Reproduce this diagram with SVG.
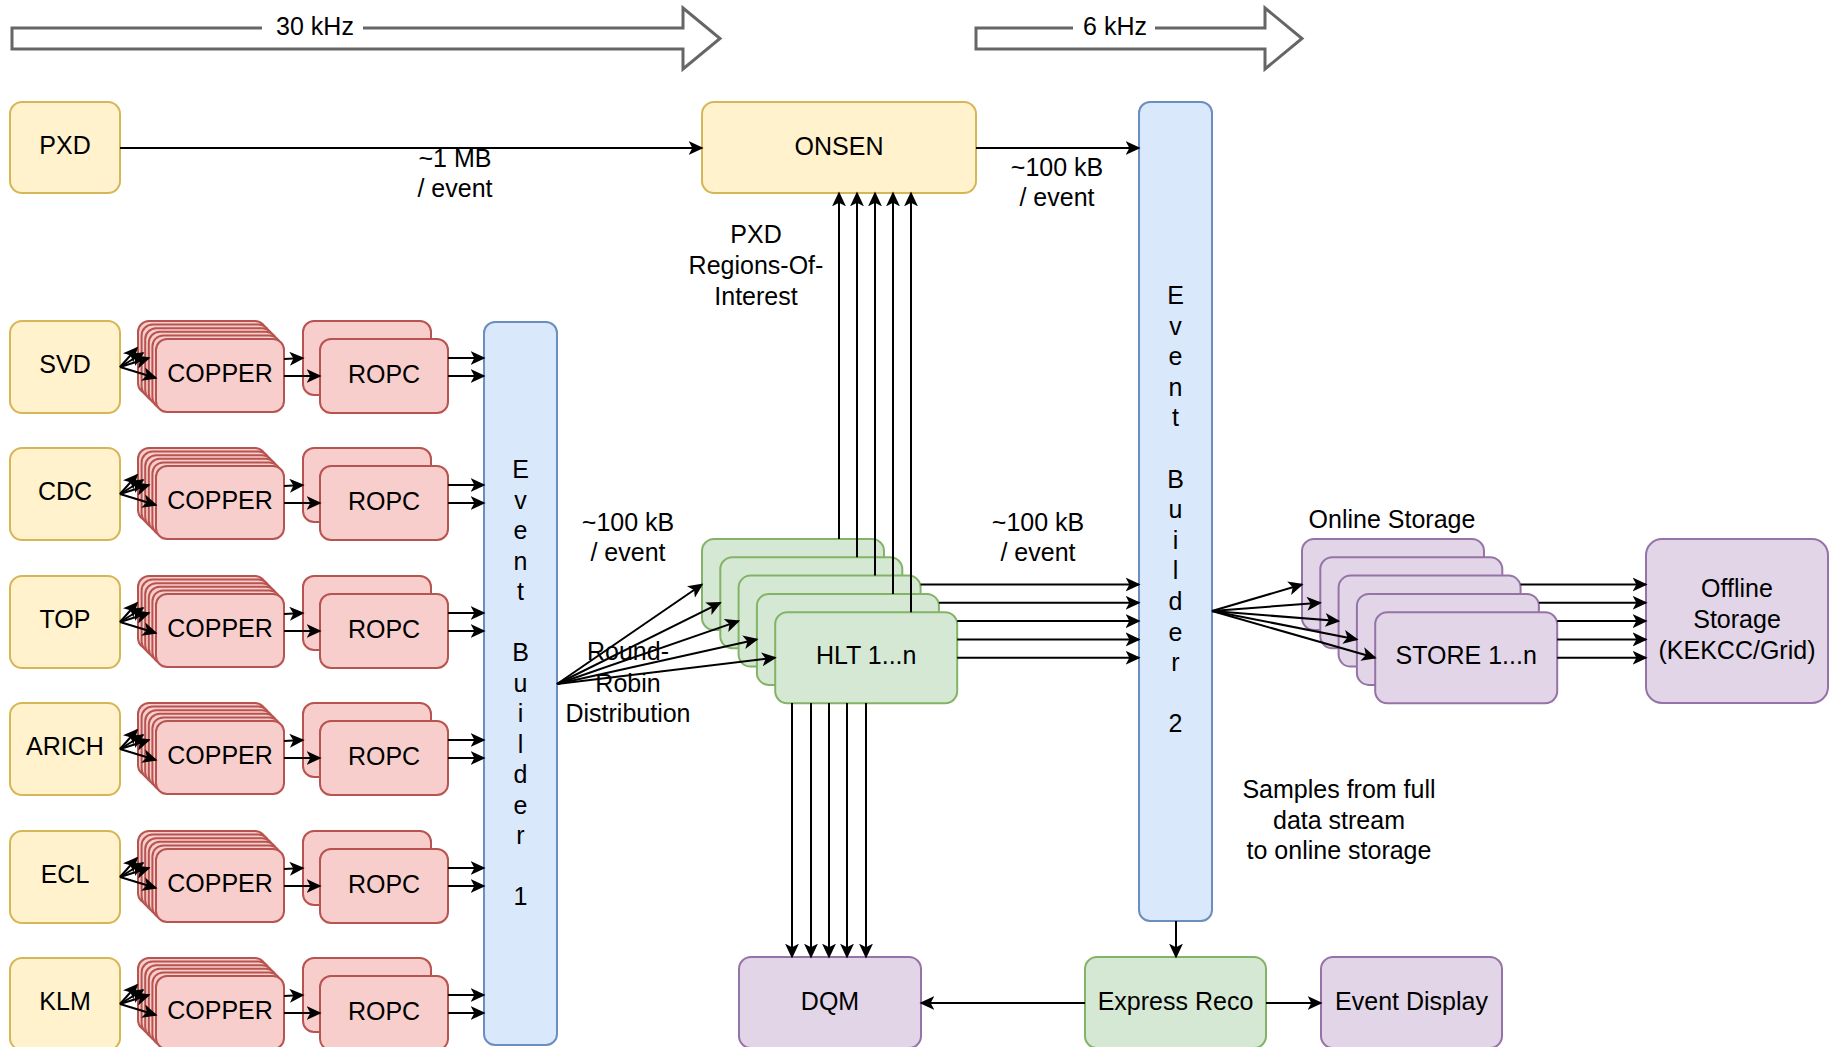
<svg xmlns="http://www.w3.org/2000/svg" width="1830" height="1047" viewBox="0 0 1830 1047">
<style>
text{font-family:"Liberation Sans",Arial,Helvetica,sans-serif;font-size:25px;fill:#000;text-anchor:middle}
.y{fill:#fff2cc;stroke:#d6b656;stroke-width:2}
.r{fill:#f8cecc;stroke:#b85450;stroke-width:2}
.b{fill:#dae8fc;stroke:#6c8ebf;stroke-width:2}
.g{fill:#d5e8d4;stroke:#82b366;stroke-width:2}
.p{fill:#e1d5e7;stroke:#9673a6;stroke-width:2}
.e{fill:none;stroke:#000;stroke-width:2;marker-end:url(#a)}
.big{fill:#fff;stroke:#666;stroke-width:3}
</style>
<defs>
<marker id="a" markerUnits="userSpaceOnUse" viewBox="0 0 14 14" refX="12.5" refY="7" markerWidth="15" markerHeight="15" orient="auto">
<path d="M0,0.5 L14,7 L0,13.5 L3.5,7 Z" fill="#000"/>
</marker>
</defs>

<g id="rate30">
<path class="big" d="M12,28 L683,28 L683,8 L720,38.5 L683,69 L683,49 L12,49 Z"/>
<rect x="262" y="20" width="101" height="22" fill="#fff"/>
<text x="315" y="35">30 kHz</text>
</g>
<g id="rate6">
<path class="big" d="M976,28 L1265,28 L1265,8 L1302,38.5 L1265,69 L1265,49 L976,49 Z"/>
<rect x="1073" y="20" width="82" height="22" fill="#fff"/>
<text x="1115" y="35">6 kHz</text>
</g>

<g id="pxd"><rect class="y" x="10" y="102" width="110" height="91" rx="12"/><text x="65" y="154">PXD</text></g>
<g id="onsen"><rect class="y" x="702" y="102" width="274" height="91" rx="12"/><text x="839" y="154.5">ONSEN</text></g>

<g id="svd"><rect class="y" x="10" y="321" width="110" height="92" rx="12"/><text x="65" y="373">SVD</text></g>
<g id="cdc"><rect class="y" x="10" y="448" width="110" height="92" rx="12"/><text x="65" y="500">CDC</text></g>
<g id="top"><rect class="y" x="10" y="576" width="110" height="92" rx="12"/><text x="65" y="628">TOP</text></g>
<g id="arich"><rect class="y" x="10" y="703" width="110" height="92" rx="12"/><text x="65" y="755">ARICH</text></g>
<g id="ecl"><rect class="y" x="10" y="831" width="110" height="92" rx="12"/><text x="65" y="883">ECL</text></g>
<g id="klm"><rect class="y" x="10" y="958" width="110" height="92" rx="12"/><text x="65" y="1010">KLM</text></g>

<g id="copper-svd">
<rect class="r" x="138" y="321" width="128" height="73" rx="11"/><rect class="r" x="141.6" y="324.6" width="128" height="73" rx="11"/><rect class="r" x="145.2" y="328.2" width="128" height="73" rx="11"/><rect class="r" x="148.8" y="331.8" width="128" height="73" rx="11"/><rect class="r" x="152.4" y="335.4" width="128" height="73" rx="11"/><rect class="r" x="156" y="339" width="128" height="73" rx="11"/>
<text x="220" y="382">COPPER</text></g>
<g id="copper-cdc">
<rect class="r" x="138" y="448" width="128" height="73" rx="11"/><rect class="r" x="141.6" y="451.6" width="128" height="73" rx="11"/><rect class="r" x="145.2" y="455.2" width="128" height="73" rx="11"/><rect class="r" x="148.8" y="458.8" width="128" height="73" rx="11"/><rect class="r" x="152.4" y="462.4" width="128" height="73" rx="11"/><rect class="r" x="156" y="466" width="128" height="73" rx="11"/>
<text x="220" y="509">COPPER</text></g>
<g id="copper-top">
<rect class="r" x="138" y="576" width="128" height="73" rx="11"/><rect class="r" x="141.6" y="579.6" width="128" height="73" rx="11"/><rect class="r" x="145.2" y="583.2" width="128" height="73" rx="11"/><rect class="r" x="148.8" y="586.8" width="128" height="73" rx="11"/><rect class="r" x="152.4" y="590.4" width="128" height="73" rx="11"/><rect class="r" x="156" y="594" width="128" height="73" rx="11"/>
<text x="220" y="637">COPPER</text></g>
<g id="copper-arich">
<rect class="r" x="138" y="703" width="128" height="73" rx="11"/><rect class="r" x="141.6" y="706.6" width="128" height="73" rx="11"/><rect class="r" x="145.2" y="710.2" width="128" height="73" rx="11"/><rect class="r" x="148.8" y="713.8" width="128" height="73" rx="11"/><rect class="r" x="152.4" y="717.4" width="128" height="73" rx="11"/><rect class="r" x="156" y="721" width="128" height="73" rx="11"/>
<text x="220" y="764">COPPER</text></g>
<g id="copper-ecl">
<rect class="r" x="138" y="831" width="128" height="73" rx="11"/><rect class="r" x="141.6" y="834.6" width="128" height="73" rx="11"/><rect class="r" x="145.2" y="838.2" width="128" height="73" rx="11"/><rect class="r" x="148.8" y="841.8" width="128" height="73" rx="11"/><rect class="r" x="152.4" y="845.4" width="128" height="73" rx="11"/><rect class="r" x="156" y="849" width="128" height="73" rx="11"/>
<text x="220" y="892">COPPER</text></g>
<g id="copper-klm">
<rect class="r" x="138" y="958" width="128" height="73" rx="11"/><rect class="r" x="141.6" y="961.6" width="128" height="73" rx="11"/><rect class="r" x="145.2" y="965.2" width="128" height="73" rx="11"/><rect class="r" x="148.8" y="968.8" width="128" height="73" rx="11"/><rect class="r" x="152.4" y="972.4" width="128" height="73" rx="11"/><rect class="r" x="156" y="976" width="128" height="73" rx="11"/>
<text x="220" y="1019">COPPER</text></g>

<g id="ropc-svd"><rect class="r" x="303" y="321" width="128" height="74" rx="11"/><rect class="r" x="320" y="339" width="128" height="74" rx="11"/><text x="384" y="382.5">ROPC</text></g>
<g id="ropc-cdc"><rect class="r" x="303" y="448" width="128" height="74" rx="11"/><rect class="r" x="320" y="466" width="128" height="74" rx="11"/><text x="384" y="509.5">ROPC</text></g>
<g id="ropc-top"><rect class="r" x="303" y="576" width="128" height="74" rx="11"/><rect class="r" x="320" y="594" width="128" height="74" rx="11"/><text x="384" y="637.5">ROPC</text></g>
<g id="ropc-arich"><rect class="r" x="303" y="703" width="128" height="74" rx="11"/><rect class="r" x="320" y="721" width="128" height="74" rx="11"/><text x="384" y="764.5">ROPC</text></g>
<g id="ropc-ecl"><rect class="r" x="303" y="831" width="128" height="74" rx="11"/><rect class="r" x="320" y="849" width="128" height="74" rx="11"/><text x="384" y="892.5">ROPC</text></g>
<g id="ropc-klm"><rect class="r" x="303" y="958" width="128" height="74" rx="11"/><rect class="r" x="320" y="976" width="128" height="74" rx="11"/><text x="384" y="1019.5">ROPC</text></g>

<g id="eb1"><rect class="b" x="484" y="322" width="73" height="723" rx="11"/>
<text x="520.5"><tspan x="520.5" y="478">E</tspan><tspan x="520.5" y="508.5">v</tspan><tspan x="520.5" y="539">e</tspan><tspan x="520.5" y="569.5">n</tspan><tspan x="520.5" y="600">t</tspan><tspan x="520.5" y="661">B</tspan><tspan x="520.5" y="691.5">u</tspan><tspan x="520.5" y="722">i</tspan><tspan x="520.5" y="752.5">l</tspan><tspan x="520.5" y="783">d</tspan><tspan x="520.5" y="813.5">e</tspan><tspan x="520.5" y="844">r</tspan><tspan x="520.5" y="905">1</tspan></text></g>

<g id="eb2"><rect class="b" x="1139" y="102" width="73" height="819" rx="11"/>
<text x="1175.5"><tspan x="1175.5" y="304">E</tspan><tspan x="1175.5" y="334.6">v</tspan><tspan x="1175.5" y="365.2">e</tspan><tspan x="1175.5" y="395.8">n</tspan><tspan x="1175.5" y="426.4">t</tspan><tspan x="1175.5" y="487.6">B</tspan><tspan x="1175.5" y="518.2">u</tspan><tspan x="1175.5" y="548.8">i</tspan><tspan x="1175.5" y="579.4">l</tspan><tspan x="1175.5" y="610">d</tspan><tspan x="1175.5" y="640.6">e</tspan><tspan x="1175.5" y="671.2">r</tspan><tspan x="1175.5" y="732.4">2</tspan></text></g>

<g id="hlt">
<rect class="g" x="702" y="539" width="182" height="91" rx="12"/><rect class="g" x="720.3" y="557.3" width="182" height="91" rx="12"/><rect class="g" x="738.6" y="575.6" width="182" height="91" rx="12"/><rect class="g" x="756.9" y="593.9" width="182" height="91" rx="12"/><rect class="g" x="775.2" y="612.2" width="182" height="91" rx="12"/>
<text x="866.2" y="664.2">HLT 1...n</text></g>

<g id="store">
<rect class="p" x="1302" y="539" width="182" height="91" rx="12"/><rect class="p" x="1320.3" y="557.3" width="182" height="91" rx="12"/><rect class="p" x="1338.6" y="575.6" width="182" height="91" rx="12"/><rect class="p" x="1356.9" y="593.9" width="182" height="91" rx="12"/><rect class="p" x="1375.2" y="612.2" width="182" height="91" rx="12"/>
<text x="1466.2" y="664.2">STORE 1...n</text></g>

<g id="offline"><rect class="p" x="1646" y="539" width="182" height="164" rx="16"/>
<text x="1737" y="597">Offline</text><text x="1737" y="628">Storage</text><text x="1737" y="659">(KEKCC/Grid)</text></g>

<g id="dqm"><rect class="p" x="739" y="957" width="182" height="91" rx="12"/><text x="830" y="1010">DQM</text></g>
<g id="expressreco"><rect class="g" x="1085" y="957" width="181" height="91" rx="12"/><text x="1175.5" y="1010">Express Reco</text></g>
<g id="eventdisplay"><rect class="p" x="1321" y="957" width="181" height="91" rx="12"/><text x="1411.5" y="1010">Event Display</text></g>

<g id="labels">
<text x="455" y="167">~1 MB</text><text x="455" y="197">/ event</text>
<text x="1057" y="176">~100 kB</text><text x="1057" y="206">/ event</text>
<text x="756" y="243">PXD</text><text x="756" y="274">Regions-Of-</text><text x="756" y="305">Interest</text>
<text x="628" y="531">~100 kB</text><text x="628" y="561">/ event</text>
<text x="628" y="660">Round-</text><text x="628" y="692">Robin</text><text x="628" y="722">Distribution</text>
<text x="1038" y="531">~100 kB</text><text x="1038" y="561">/ event</text>
<text x="1392" y="528">Online Storage</text>
<text x="1339" y="798">Samples from full</text><text x="1339" y="829">data stream</text><text x="1339" y="859">to online storage</text>
</g>

<g id="connectors">
<path class="e" d="M120,148 L702,148"/>
<path class="e" d="M976,148 L1139,148"/>
<path class="e" d="M120,367 L137,348"/><path class="e" d="M120,367 L143,353"/><path class="e" d="M120,367 L149,358"/><path class="e" d="M120,367 L156,378"/>
<path class="e" d="M120,494 L137,475"/><path class="e" d="M120,494 L143,480"/><path class="e" d="M120,494 L149,485"/><path class="e" d="M120,494 L156,505"/>
<path class="e" d="M120,622 L137,603"/><path class="e" d="M120,622 L143,608"/><path class="e" d="M120,622 L149,613"/><path class="e" d="M120,622 L156,633"/>
<path class="e" d="M120,749 L137,730"/><path class="e" d="M120,749 L143,735"/><path class="e" d="M120,749 L149,740"/><path class="e" d="M120,749 L156,760"/>
<path class="e" d="M120,877 L137,858"/><path class="e" d="M120,877 L143,863"/><path class="e" d="M120,877 L149,868"/><path class="e" d="M120,877 L156,888"/>
<path class="e" d="M120,1004 L137,985"/><path class="e" d="M120,1004 L143,990"/><path class="e" d="M120,1004 L149,995"/><path class="e" d="M120,1004 L156,1015"/>
<path class="e" d="M284,359 L303,358"/><path class="e" d="M284,376 L320,376"/>
<path class="e" d="M284,486 L303,485"/><path class="e" d="M284,503 L320,503"/>
<path class="e" d="M284,614 L303,613"/><path class="e" d="M284,631 L320,631"/>
<path class="e" d="M284,741 L303,740"/><path class="e" d="M284,758 L320,758"/>
<path class="e" d="M284,869 L303,868"/><path class="e" d="M284,886 L320,886"/>
<path class="e" d="M284,996 L303,995"/><path class="e" d="M284,1013 L320,1013"/>
<path class="e" d="M448,358 L484,358"/><path class="e" d="M448,376 L484,376"/>
<path class="e" d="M448,485 L484,485"/><path class="e" d="M448,503 L484,503"/>
<path class="e" d="M448,613 L484,613"/><path class="e" d="M448,631 L484,631"/>
<path class="e" d="M448,740 L484,740"/><path class="e" d="M448,758 L484,758"/>
<path class="e" d="M448,868 L484,868"/><path class="e" d="M448,886 L484,886"/>
<path class="e" d="M448,995 L484,995"/><path class="e" d="M448,1013 L484,1013"/>
<path class="e" d="M557,684 L702,584.5"/><path class="e" d="M557,684 L720.3,602.8"/><path class="e" d="M557,684 L738.6,621.1"/><path class="e" d="M557,684 L756.9,639.4"/><path class="e" d="M557,684 L775.2,657.7"/>
<path class="e" d="M839,539 L839,193"/><path class="e" d="M857,557.3 L857,193"/><path class="e" d="M875,575.6 L875,193"/><path class="e" d="M893,593.9 L893,193"/><path class="e" d="M911,612.2 L911,193"/>
<path class="e" d="M920.6,584.5 L1139,584.5"/><path class="e" d="M938.9,602.8 L1139,602.8"/><path class="e" d="M957.2,621.1 L1139,621.1"/><path class="e" d="M957.2,639.4 L1139,639.4"/><path class="e" d="M957.2,657.7 L1139,657.7"/>
<path class="e" d="M792,703 L792,957"/><path class="e" d="M811,703 L811,957"/><path class="e" d="M829,703 L829,957"/><path class="e" d="M847,703 L847,957"/><path class="e" d="M866,703 L866,957"/>
<path class="e" d="M1212,611 L1302,584.5"/><path class="e" d="M1212,611 L1320.3,602.8"/><path class="e" d="M1212,611 L1338.6,621.1"/><path class="e" d="M1212,611 L1356.9,639.4"/><path class="e" d="M1212,611 L1375.2,657.7"/>
<path class="e" d="M1520.6,584.5 L1646,584.5"/><path class="e" d="M1538.9,602.8 L1646,602.8"/><path class="e" d="M1557.2,621.1 L1646,621.1"/><path class="e" d="M1557.2,639.4 L1646,639.4"/><path class="e" d="M1557.2,657.7 L1646,657.7"/>
<path class="e" d="M1176,921 L1176,957"/>
<path class="e" d="M1085,1003 L921,1003"/>
<path class="e" d="M1266,1003 L1321,1003"/>
</g>
</svg>
